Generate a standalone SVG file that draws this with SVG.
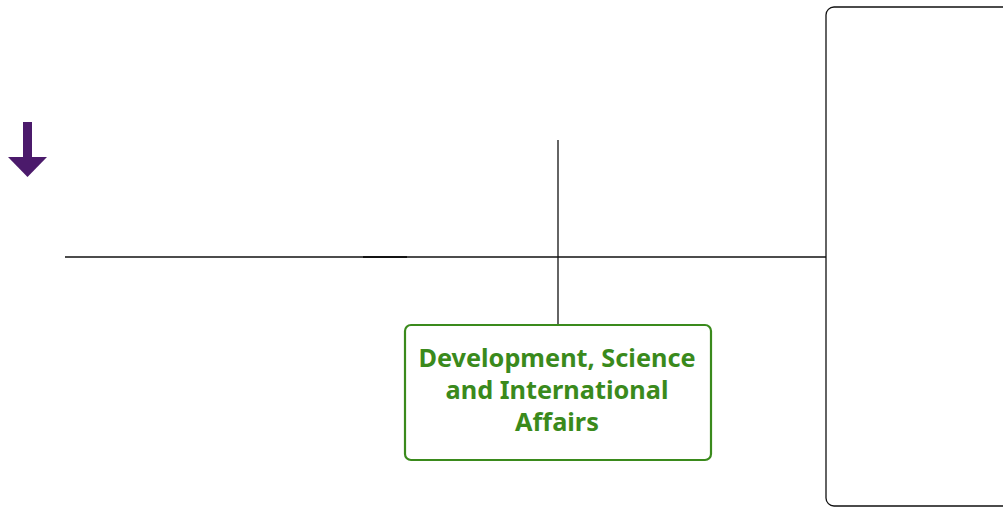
<svg xmlns="http://www.w3.org/2000/svg" width="1003" height="507" viewBox="0 0 1003 507">
<style>
.ln{stroke:#111;stroke-width:1.3;fill:none}
.lbl{font-family:"Noto Sans","Open Sans",sans-serif;font-weight:bold;font-size:25.3px;fill:#3a8a1c;text-anchor:middle}
</style>
<rect width="1003" height="507" fill="#fff"/>
<g id="arrow-icon">
<rect x="23" y="122" width="9" height="36" fill="#4b1a6b"/>
<polygon points="8,157 47,157 27.5,177" fill="#4b1a6b"/>
</g>
<g id="connectors">
<line class="ln" x1="65" y1="257" x2="826" y2="257"/>
<line x1="363" y1="257" x2="407" y2="257" stroke="#000" stroke-width="1.6"/>
<line class="ln" x1="558" y1="140" x2="558" y2="324"/>
</g>
<g id="right-panel">
<rect x="826" y="7" width="200" height="499" rx="8" fill="none" stroke="#111" stroke-width="1.3"/>
</g>
<g id="dsia">
<rect x="405" y="325" width="306" height="135" rx="6" fill="#fff" stroke="#3a8a1c" stroke-width="2.2"/>
<text class="lbl" x="557" y="367">Development, Science</text>
<text class="lbl" x="557" y="399">and International</text>
<text class="lbl" x="557" y="431">Affairs</text>
</g>
</svg>
